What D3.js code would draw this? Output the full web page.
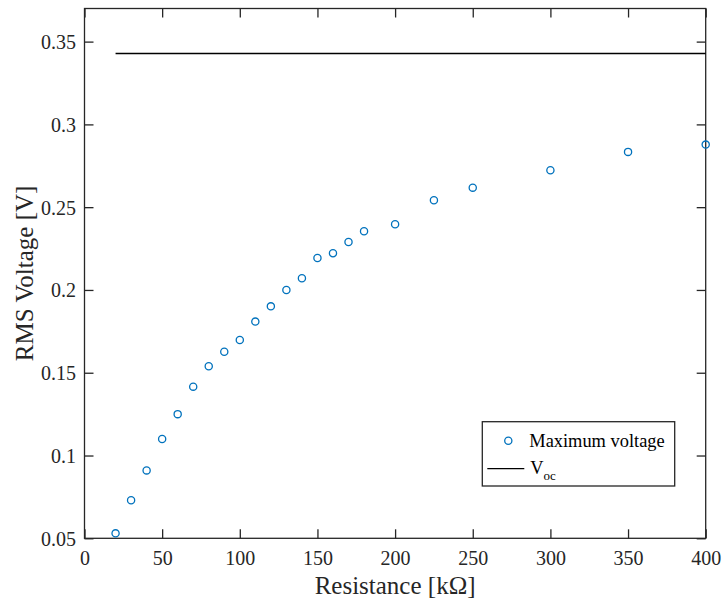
<!DOCTYPE html>
<html>
<head>
<meta charset="utf-8">
<script src="https://cdn.jsdelivr.net/npm/d3@7"></script>
<style>
body { margin: 0; background: #fff; }
</style>
</head>
<body>
<script>
// resistance in kOhm, rms voltage in V
var resistance = [20, 30, 40, 50, 60, 70, 80, 90, 100, 110, 120, 130, 140, 150, 160, 170, 180, 200, 225, 250, 300, 350, 400];
var voltage = [0.053, 0.073, 0.091, 0.110, 0.125, 0.1416, 0.1539, 0.1627, 0.1698, 0.1809, 0.1901, 0.2000, 0.2071, 0.2193, 0.2222, 0.229, 0.2355, 0.2397, 0.2542, 0.2618, 0.2723, 0.2834, 0.2878];
var vocValue = 0.3428;
var vocRange = [20, 400];
var xTicks = [0, 50, 100, 150, 200, 250, 300, 350, 400];
var yTicks = [0.05, 0.1, 0.15, 0.2, 0.25, 0.3, 0.35];

var W = 722, H = 601;
var margin = { top: 8.5, right: 16.3, bottom: 62.7, left: 84.5 },
	width = W - margin.left - margin.right,
	height = H - margin.top - margin.bottom;

var serif = "'Liberation Serif', 'Times New Roman', serif";
var axisColor = "#262626", tickLen = 9;

var svg = d3.select("body").append("svg")
	.attr("width", W)
	.attr("height", H)
	.style("font-family", serif);

var g = svg.append("g")
	.attr("transform", "translate(" + margin.left + "," + margin.top + ")");

var x = d3.scaleLinear().domain([0, 400]).range([0, width]),
	y = d3.scaleLinear().domain([0.05, 0.37]).range([height, 0]);

// box
g.append("rect")
	.attr("width", width)
	.attr("height", height)
	.attr("fill", "none")
	.attr("stroke", axisColor)
	.attr("stroke-width", 1.3);

var fmtY = function (d) { return String(+d.toFixed(2)); };

var xb = g.append("g").attr("transform", "translate(0," + height + ")")
	.call(d3.axisBottom(x).tickValues(xTicks).tickSizeInner(-tickLen).tickSizeOuter(0).tickPadding(13));
var xt = g.append("g")
	.call(d3.axisTop(x).tickValues(xTicks).tickSizeInner(-tickLen).tickSizeOuter(0).tickFormat(""));
var yl = g.append("g")
	.call(d3.axisLeft(y).tickValues(yTicks).tickSizeInner(-tickLen).tickSizeOuter(0).tickPadding(8.5).tickFormat(fmtY));
var yr = g.append("g").attr("transform", "translate(" + width + ",0)")
	.call(d3.axisRight(y).tickValues(yTicks).tickSizeInner(-tickLen).tickSizeOuter(0).tickFormat(""));

[xb, xt, yl, yr].forEach(function (a) {
	a.attr("font-family", null).attr("font-size", null);
	a.select(".domain").remove();
	a.selectAll(".tick line").attr("stroke", axisColor).attr("stroke-width", 1.3);
	a.selectAll(".tick text")
		.style("font-family", serif)
		.style("font-size", "20px")
		.attr("fill", axisColor);
});
yl.selectAll(".tick text").attr("dy", "0.35em");
xb.selectAll(".tick text").attr("dy", "0.71em");

// Voc line
g.append("line")
	.attr("x1", x(vocRange[0]))
	.attr("x2", x(vocRange[1]))
	.attr("y1", y(vocValue))
	.attr("y2", y(vocValue))
	.attr("stroke", "#000")
	.attr("stroke-width", 1.5);

// data points
g.selectAll(".pt")
	.data(resistance)
	.enter().append("circle")
	.attr("class", "pt")
	.attr("cx", function (d) { return x(d); })
	.attr("cy", function (d, i) { return y(voltage[i]); })
	.attr("r", 3.6)
	.attr("fill", "none")
	.attr("stroke", "#0072BD")
	.attr("stroke-width", 1.3);

// axis labels
svg.append("text")
	.attr("x", margin.left + width / 2)
	.attr("y", 594)
	.attr("text-anchor", "middle")
	.style("font-family", serif)
	.style("font-size", "25px")
	.attr("fill", axisColor)
	.text("Resistance [kΩ]");

svg.append("text")
	.attr("transform", "translate(33," + (margin.top + height / 2) + ")rotate(-90)")
	.attr("text-anchor", "middle")
	.style("font-family", serif)
	.style("font-size", "25px")
	.attr("fill", axisColor)
	.text("RMS Voltage [V]");

// legend
var leg = svg.append("g").attr("transform", "translate(482.3,421.7)");
leg.append("rect")
	.attr("width", 192.4)
	.attr("height", 64.3)
	.attr("fill", "#fff")
	.attr("stroke", axisColor)
	.attr("stroke-width", 1.3);
leg.append("circle")
	.attr("cx", 26)
	.attr("cy", 19)
	.attr("r", 3.6)
	.attr("fill", "none")
	.attr("stroke", "#0072BD")
	.attr("stroke-width", 1.3);
leg.append("text")
	.attr("x", 47)
	.attr("y", 25.5)
	.style("font-family", serif)
	.style("font-size", "18.4px")
	.attr("fill", "#000")
	.text("Maximum voltage");
leg.append("line")
	.attr("x1", 5)
	.attr("x2", 42)
	.attr("y1", 47)
	.attr("y2", 47)
	.attr("stroke", "#000")
	.attr("stroke-width", 1.3);
var vt = leg.append("text")
	.attr("x", 48)
	.attr("y", 52.5)
	.style("font-family", serif)
	.style("font-size", "18.4px")
	.attr("fill", "#000");
vt.append("tspan").text("V");
vt.append("tspan").style("font-size", "13px").attr("dy", 6).text("oc");
</script>
</body>
</html>
